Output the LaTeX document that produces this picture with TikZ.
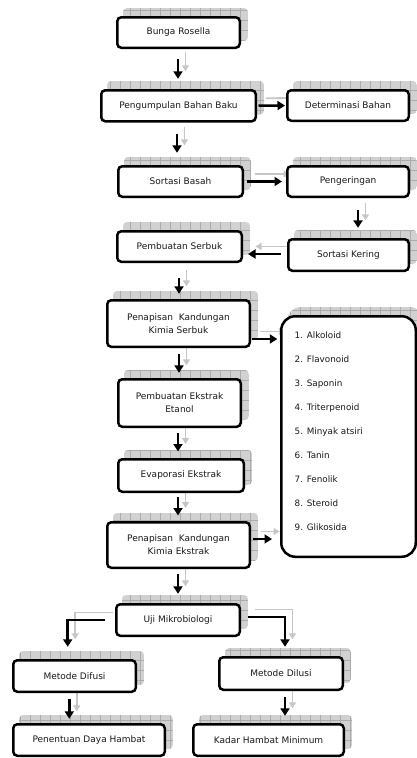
\documentclass[tikz,border=0pt]{standalone}
\usepackage{fontspec}
\setmainfont{DejaVu Sans}
\usetikzlibrary{arrows.meta,calc}
\pgfdeclarelayer{background}
\pgfsetlayers{background,main}
\tikzset{
  stepbox/.style={draw=black, line width=2.5pt, rounded corners=4pt, fill=white,
    align=center, inner sep=0pt, font=\fontsize{9}{13}\selectfont, text=black!90},
  sz/.style 2 args={minimum width=#1pt, minimum height=#2pt},
  blk/.style={line width=2.5pt, -{Triangle[length=7.5pt,width=9pt]}},
  gry/.style={line width=1.8pt, draw=gray!45, -{Triangle[length=6pt,width=7pt]},
    transform canvas={shift={(7.5pt,7.5pt)}}},
}
\newcommand{\boxshadow}[2][4pt]{%
  \begin{scope}
    \clip[rounded corners=#1] ($(#2.south west)+(7pt,8pt)$) rectangle ($(#2.north east)+(7pt,8pt)$);
    \fill[gray!36] ($(#2.south west)+(7pt,8pt)$) rectangle ($(#2.north east)+(7pt,8pt)$);
    \draw[gray!65, line width=0.4pt, step=10pt] ($(#2.south west)+(7pt,8pt)$) grid ($(#2.north east)+(7pt,8pt)$);
  \end{scope}}
\newcommand{\duo}[2][]{%
  \begin{pgfonlayer}{background}\draw[gry,#1] #2;\end{pgfonlayer}%
  \draw[blk,#1] #2;}
\begin{document}
\begin{tikzpicture}[x=1pt,y=-1pt]
\useasboundingbox (0,0) rectangle (417,758);

\node[stepbox, sz={122.5}{30.5}] (rosella) at (178.5,32.5) {Bunga Rosella};
\node[stepbox, sz={154.5}{31}] (pengumpulan) at (178.5,105.75) {Pengumpulan Bahan Baku};
\node[stepbox, sz={121.5}{30.5}] (determinasi) at (348,105.5) {Determinasi Bahan};
\node[stepbox, sz={124.5}{30.5}] (sortasibasah) at (180.5,181.5) {Sortasi Basah};
\node[stepbox, sz={121.5}{30.5}] (pengeringan) at (348,181.5) {Pengeringan};
\node[stepbox, sz={120.5}{31.5}] (kering) at (348.5,255) {Sortasi Kering};
\node[stepbox, sz={124.5}{30.5}] (serbuk) at (179.5,246.5) {Pembuatan Serbuk};
\node[stepbox, sz={142.5}{46.5}] (penapisanA) at (178.5,323.5) {Penapisan\ \ Kandungan\\Kimia Serbuk};
\node[stepbox, sz={134.5}{240.5}, rounded corners=14pt] (list) at (348.5,436.5) {};
\node[anchor=west, align=left, inner sep=0pt, font=\fontsize{8.8}{24}\selectfont, text=black!90] (items) at (294.5,431)
  {1. Alkoloid\\2. Flavonoid\\3. Saponin\\4. Triterpenoid\\5. Minyak atsiri\\6. Tanin\\7. Fenolik\\8. Steroid\\9. Glikosida};
\node[stepbox, sz={122.5}{47.5}] (ekstrak) at (179.5,403) {Pembuatan Ekstrak\\Etanol};
\node[stepbox, sz={125.5}{32.5}] (evaporasi) at (181,475.5) {Evaporasi Ekstrak};
\node[stepbox, sz={142.5}{45.5}] (penapisanB) at (178.5,545) {Penapisan\ \ Kandungan\\Kimia Ekstrak};
\node[stepbox, sz={123.5}{31.5}] (uji) at (178,620) {Uji Mikrobiologi};
\node[stepbox, sz={122.5}{31.5}] (difusi) at (74.5,676) {Metode Difusi};
\node[stepbox, sz={123.5}{32.5}] (dilusi) at (281,673.5) {Metode Dilusi};
\node[stepbox, sz={151.5}{31.5}] (penentuan) at (89,740) {Penentuan Daya Hambat};
\node[stepbox, sz={150.5}{31.5}] (kadar) at (268.5,740) {Kadar Hambat Minimum};

\begin{pgfonlayer}{background}
  \boxshadow{rosella}\boxshadow{pengumpulan}\boxshadow{determinasi}
  \boxshadow{sortasibasah}\boxshadow{pengeringan}\boxshadow{kering}
  \boxshadow{serbuk}\boxshadow{penapisanA}\boxshadow[14pt]{list}
  \boxshadow{ekstrak}\boxshadow{evaporasi}\boxshadow{penapisanB}
  \boxshadow{uji}\boxshadow{difusi}\boxshadow{dilusi}
  \boxshadow{penentuan}\boxshadow{kadar}
\end{pgfonlayer}

\coordinate (xa) at (178,0);
\coordinate (xb) at (177,0);
\coordinate (xc) at (358,0);
\coordinate (xd) at (179,0);
\coordinate (xe) at (69.3,0);
\coordinate (xf) at (285,0);
\coordinate (xg) at (67.7,0);
\coordinate (yk) at (0,254);
\coordinate (ya) at (0,339);
\coordinate (yb) at (0,539);
\coordinate (yu) at (0,617);

\duo[shorten <=10.2pt, shorten >=10.2pt]{(rosella.south -| xa) -- (pengumpulan.north -| xa)}
\duo[shorten <=11.6pt, shorten >=12.2pt]{(pengumpulan.south -| xb) -- (sortasibasah.north -| xb)}
\duo[shorten <=12.2pt, shorten >=10.2pt]{(pengeringan.south -| xc) -- (kering.north -| xc)}
\duo[shorten <=14.8pt, shorten >=5.2pt]{(serbuk.south -| xd) -- (penapisanA.north -| xd)}
\duo[shorten <=6.2pt, shorten >=5.2pt]{(penapisanA.south -| xd) -- (ekstrak.north -| xd)}
\duo[shorten <=4.8pt, shorten >=6.5pt]{(ekstrak.south -| xa) -- (evaporasi.north -| xa)}
\duo[shorten <=4.2pt, shorten >=5.5pt]{(evaporasi.south -| xa) -- (penapisanB.north -| xa)}
\duo[shorten <=5.2pt, shorten >=9.2pt]{(penapisanB.south -| xa) -- (uji.north -| xa)}
\duo[shorten <=6.2pt, shorten >=4.2pt]{(difusi.south -| xe) -- (penentuan.north -| xe)}
\duo[shorten <=6.2pt, shorten >=7.2pt]{(dilusi.south -| xf) -- (kadar.north -| xf)}

\duo[shorten <=1.5pt, shorten >=1pt]{(pengumpulan.east) -- (determinasi.west)}
\duo[shorten <=3pt, shorten >=4pt]{(sortasibasah.east) -- (pengeringan.west)}
\duo[shorten <=6pt, shorten >=5pt]{(kering.west |- yk) -- (serbuk.east |- yk)}
\duo[shorten <=1.2pt, shorten >=2.7pt]{(penapisanA.east |- ya) -- (list.west |- ya)}
\duo[shorten <=2pt, shorten >=8pt]{(penapisanB.east |- yb) -- (list.west |- yb)}
\duo[shorten <=10pt, shorten >=12.2pt]{(uji.west) -| (difusi.north -| xg)}
\duo[shorten <=6.9pt, shorten >=9.2pt]{(uji.east |- yu) -| (dilusi.north -| xf)}
\end{tikzpicture}
\end{document}
